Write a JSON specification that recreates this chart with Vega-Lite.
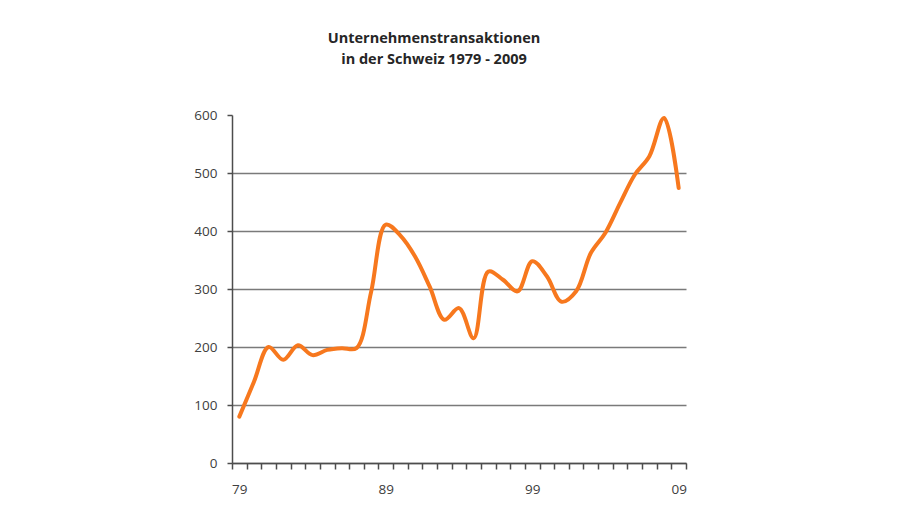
{
  "$schema": "https://vega.github.io/schema/vega-lite/v6.json",
  "autosize": "none",
  "width": 454,
  "height": 348,
  "padding": {"left": 232, "top": 115, "right": 215, "bottom": 51},
  "background": "white",
  "title": {
    "text": ["Unternehmenstransaktionen", "in der Schweiz 1979 - 2009"],
    "anchor": "middle",
    "frame": "group",
    "dx": -25,
    "offset": 41,
    "font": "Open Sans",
    "fontSize": 14.5,
    "fontWeight": "bold",
    "lineHeight": 21,
    "color": "#262626"
  },
  "data": {
    "values": [
      {"year": 1979, "count": 80},
      {"year": 1980, "count": 140},
      {"year": 1981, "count": 200},
      {"year": 1982, "count": 178},
      {"year": 1983, "count": 203},
      {"year": 1984, "count": 186},
      {"year": 1985, "count": 195},
      {"year": 1986, "count": 198},
      {"year": 1987, "count": 198},
      {"year": 1988, "count": 295},
      {"year": 1989, "count": 411},
      {"year": 1990, "count": 392},
      {"year": 1991, "count": 356},
      {"year": 1992, "count": 304},
      {"year": 1993, "count": 247},
      {"year": 1994, "count": 267},
      {"year": 1995, "count": 215},
      {"year": 1996, "count": 330},
      {"year": 1997, "count": 316},
      {"year": 1998, "count": 296},
      {"year": 1999, "count": 348},
      {"year": 2000, "count": 322},
      {"year": 2001, "count": 278},
      {"year": 2002, "count": 296},
      {"year": 2003, "count": 362},
      {"year": 2004, "count": 397},
      {"year": 2005, "count": 448},
      {"year": 2006, "count": 497},
      {"year": 2007, "count": 529},
      {"year": 2008, "count": 595},
      {"year": 2009, "count": 474}
    ]
  },
  "mark": {
    "type": "line",
    "interpolate": "catmull-rom",
    "color": "#F7781E",
    "strokeWidth": 4,
    "strokeCap": "round"
  },
  "encoding": {
    "x": {
      "field": "year",
      "type": "ordinal",
      "scale": {"type": "band", "paddingInner": 0, "paddingOuter": 0},
      "axis": {
        "title": null,
        "tickBand": "extent",
        "labelAngle": 0,
        "labelExpr": "datum.value % 10 == 9 ? slice(toString(datum.value), 2) : ''",
        "labelFont": "Open Sans",
        "labelFontSize": 13.5,
        "labelColor": "#404040",
        "labelPadding": 13,
        "tickSize": 6,
        "tickColor": "#4d4d4d",
        "tickWidth": 1.5,
        "domainColor": "#4d4d4d",
        "domainWidth": 1.5,
        "grid": false
      }
    },
    "y": {
      "field": "count",
      "type": "quantitative",
      "scale": {"domain": [0, 600], "nice": false},
      "axis": {
        "title": null,
        "values": [0, 100, 200, 300, 400, 500, 600],
        "labelFont": "Open Sans",
        "labelFontSize": 13.5,
        "labelColor": "#404040",
        "labelPadding": 10,
        "tickSize": 5,
        "tickColor": "#4d4d4d",
        "tickWidth": 1.5,
        "domainColor": "#4d4d4d",
        "domainWidth": 1.5,
        "grid": true,
        "gridColor": "#7a7a7a",
        "gridWidth": 1.5,
        "gridOpacity": {"condition": {"test": "datum.value == 600", "value": 0}, "value": 1}
      }
    }
  },
  "config": {"view": {"stroke": null}}
}
